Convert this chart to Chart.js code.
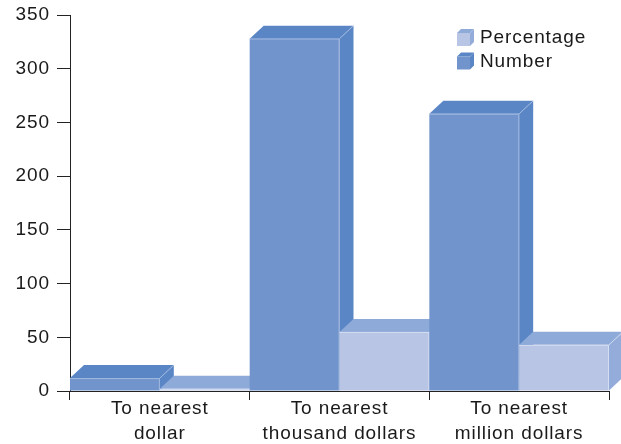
<!DOCTYPE html>
<html>
<head>
<meta charset="utf-8">
<script src="https://cdn.jsdelivr.net/npm/chart.js@4.4.1/dist/chart.umd.min.js"></script>
<style>
  html, body { margin: 0; padding: 0; background: #ffffff; }
  #wrap { width: 621px; height: 444px; }
</style>
</head>
<body>
<div id="wrap"><canvas id="chart" width="621" height="444"></canvas></div>
<script>
// Rounding precision of reported amounts
const categories = [
  ["To nearest", "dollar"],
  ["To nearest", "thousand dollars"],
  ["To nearest", "million dollars"]
];
const numberValues = [12, 328, 258];
const percentageValues = [2, 55, 43];
const seriesLabels = ["Number", "Percentage"];
const legendOrder = ["Percentage", "Number"];
const yMin = 0, yMax = 350, yStep = 50;

// Face colours for the extruded bars: front, top, side
const faceColors = {
  Number:     { front: "#7094cb", top: "#5b86c6", side: "#5b86c6", edge: "rgba(190,205,235,0.55)" },
  Percentage: { front: "#b9c5e4", top: "#8eaad8", side: "#93acd9", edge: "rgba(225,232,246,0.7)" }
};
const DEPTH_X = 14, DEPTH_Y = 13;
const FONT = '"Liberation Sans", Arial, Helvetica, sans-serif';
const TEXT_COLOR = "#1a1a1a";

function applySpacing(ctx) {
  if ("letterSpacing" in ctx) ctx.letterSpacing = "0.9px";
}

function drawBox(ctx, left, right, top, base, col) {
  // front
  ctx.fillStyle = col.front;
  ctx.fillRect(left, top, right - left, base - top);
  // top face
  ctx.fillStyle = col.top;
  ctx.beginPath();
  ctx.moveTo(left, top);
  ctx.lineTo(left + DEPTH_X, top - DEPTH_Y);
  ctx.lineTo(right + DEPTH_X, top - DEPTH_Y);
  ctx.lineTo(right, top);
  ctx.closePath();
  ctx.fill();
  // side face
  ctx.fillStyle = col.side;
  ctx.beginPath();
  ctx.moveTo(right, top);
  ctx.lineTo(right + DEPTH_X, top - DEPTH_Y);
  ctx.lineTo(right + DEPTH_X, base - DEPTH_Y);
  ctx.lineTo(right, base);
  ctx.closePath();
  ctx.fill();
  // light edges
  ctx.strokeStyle = col.edge;
  ctx.lineWidth = 1;
  ctx.beginPath();
  ctx.moveTo(left, top + 0.5);
  ctx.lineTo(right - 0.5, top + 0.5);
  ctx.lineTo(right - 0.5, base);
  ctx.moveTo(right, top);
  ctx.lineTo(right + DEPTH_X, top - DEPTH_Y);
  ctx.stroke();
}

function drawCube(ctx, x, y, size, col) {
  const d = 4;
  ctx.fillStyle = col.top;
  ctx.beginPath();
  ctx.moveTo(x, y + d);
  ctx.lineTo(x + d, y);
  ctx.lineTo(x + size + d, y);
  ctx.lineTo(x + size, y + d);
  ctx.closePath();
  ctx.fill();
  ctx.fillStyle = col.side;
  ctx.beginPath();
  ctx.moveTo(x + size, y + d);
  ctx.lineTo(x + size + d, y);
  ctx.lineTo(x + size + d, y + size);
  ctx.lineTo(x + size, y + size + d);
  ctx.closePath();
  ctx.fill();
  ctx.fillStyle = col.front;
  ctx.fillRect(x, y + d, size, size);
}

const extrudedBars = {
  id: "extrudedBars",
  beforeUpdate(chart) { applySpacing(chart.ctx); },
  beforeDraw(chart) { applySpacing(chart.ctx); },
  afterDatasetsDraw(chart) {
    const ctx = chart.ctx;
    ctx.save();
    const metas = seriesLabels.map((_, i) => chart.getDatasetMeta(i));
    for (let i = 0; i < categories.length; i++) {
      metas.forEach((meta, k) => {
        const bar = meta.data[i];
        const p = bar.getProps(["x", "y", "base", "width"], true);
        const left = p.x - p.width / 2, right = p.x + p.width / 2;
        drawBox(ctx, left, right, p.y, p.base, faceColors[seriesLabels[k]]);
      });
    }
    ctx.restore();
  },
  afterDraw(chart) {
    const ctx = chart.ctx;
    ctx.save();
    applySpacing(ctx);
    ctx.font = "19px " + FONT;
    ctx.fillStyle = TEXT_COLOR;
    ctx.textAlign = "left";
    ctx.textBaseline = "alphabetic";
    legendOrder.forEach((name, i) => {
      const y = 29 + i * 23.5;
      drawCube(ctx, 457, y, 13, faceColors[name]);
      ctx.fillStyle = TEXT_COLOR;
      ctx.fillText(name, 480, y + 14);
    });
    ctx.restore();
  }
};

const ctx = document.getElementById("chart").getContext("2d");
applySpacing(ctx);

new Chart(ctx, {
  type: "bar",
  data: {
    labels: categories,
    datasets: [
      { label: seriesLabels[0], data: numberValues, backgroundColor: "rgba(0,0,0,0)",
        barPercentage: 1, categoryPercentage: 1 },
      { label: seriesLabels[1], data: percentageValues, backgroundColor: "rgba(0,0,0,0)",
        barPercentage: 1, categoryPercentage: 1 }
    ]
  },
  options: {
    responsive: false,
    animation: false,
    devicePixelRatio: 1,
    events: [],
    layout: { padding: { top: 15, right: 12, bottom: 0, left: 0 } },
    plugins: { legend: { display: false }, tooltip: { enabled: false } },
    scales: {
      x: {
        z: 1,
        offset: true,
        grid: { offset: true, drawOnChartArea: false, drawTicks: true, tickLength: 9, color: "#222", lineWidth: 1 },
        border: { display: true, color: "#222", width: 1 },
        ticks: { color: TEXT_COLOR, font: { family: FONT, size: 19, lineHeight: 1.32 }, padding: -4, maxRotation: 0, autoSkip: false },
        afterFit(scale) { scale.height = 53; scale.paddingLeft = 0; scale.paddingRight = 0; }
      },
      y: {
        z: 1,
        min: yMin,
        max: yMax,
        grid: { drawOnChartArea: false, drawTicks: true, tickLength: 13, color: "#222", lineWidth: 1 },
        border: { display: true, color: "#222", width: 1 },
        ticks: { stepSize: yStep, color: TEXT_COLOR, font: { family: FONT, size: 19 }, padding: 7 },
        afterFit(scale) { scale.width = 70; scale.paddingTop = 0; scale.paddingBottom = 0; }
      }
    }
  },
  plugins: [extrudedBars]
});
</script>
</body>
</html>
